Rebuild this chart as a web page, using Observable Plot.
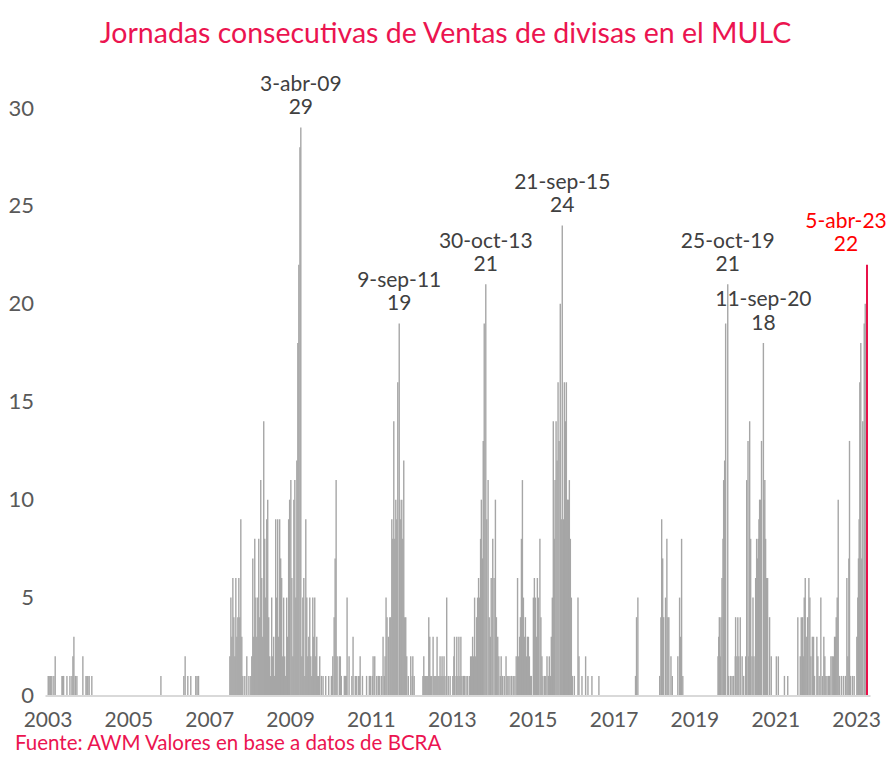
<!DOCTYPE html>
<html>
<head>
<meta charset="utf-8">
<script src="https://cdn.jsdelivr.net/npm/d3@7"></script>
<script src="https://cdn.jsdelivr.net/npm/@observablehq/plot@0.6"></script>
<style>
  html, body { margin: 0; padding: 0; background: #ffffff; }
  body { width: 891px; height: 768px; overflow: hidden; font-family: Lato, "Open Sans", sans-serif; }
  #titulo { height: 43px; padding-top: 17px; text-align: center; color: #EB1450; font-size: 28.5px; line-height: 30px; }
  #fuente { padding-left: 15px; color: #EB1450; font-size: 20.5px; line-height: 20px; margin-top: 0px; }
  #grafico svg { display: block; overflow: visible; }
</style>
</head>
<body>
<div id="titulo">Jornadas consecutivas de Ventas de divisas en el MULC</div>
<div id="grafico"></div>
<div id="fuente">Fuente: AWM Valores en base a datos de BCRA</div>
<script>
// Jornadas consecutivas con ventas netas de divisas (fecha, jornadas)
const rachas = [
  ["2003-01-03",1],["2003-01-11",1],["2003-01-20",1],["2003-01-27",1],["2003-02-05",1],["2003-02-23",1],["2003-03-07",2],
  ["2003-05-07",1],["2003-05-14",1],["2003-05-22",1],["2003-06-21",1],["2003-07-18",1],["2003-08-05",1],["2003-08-14",2],
  ["2003-08-23",3],["2003-09-05",1],["2003-09-19",1],["2003-11-12",2],["2003-12-10",1],["2003-12-19",1],["2003-12-27",1],
  ["2004-01-08",1],["2004-02-01",1],["2005-10-17",1],["2006-05-12",1],["2006-05-24",2],["2006-06-17",1],["2006-07-14",1],
  ["2006-08-28",1],["2006-09-09",1],["2006-09-22",1],
  ["2007-07-02",2],["2007-07-11",5],["2007-07-20",3],["2007-07-29",6],["2007-08-07",4],["2007-08-16",2],["2007-08-25",6],
  ["2007-09-03",3],["2007-09-12",4],["2007-09-21",6],["2007-09-30",4],["2007-10-09",9],["2007-10-18",3],["2007-10-27",1],
  ["2007-11-14",1],["2007-12-02",2],["2007-12-21",1],
  ["2008-01-07",1],["2008-01-16",2],["2008-01-25",7],["2008-02-03",3],["2008-02-12",8],["2008-02-21",5],["2008-03-01",3],
  ["2008-03-10",5],["2008-03-19",8],["2008-03-28",4],["2008-04-06",11],["2008-04-15",6],["2008-04-24",3],["2008-05-03",14],
  ["2008-05-12",8],["2008-05-21",5],["2008-05-30",9],["2008-06-08",10],["2008-06-17",4],["2008-06-26",2],["2008-07-05",1],
  ["2008-07-14",5],["2008-07-23",2],["2008-08-01",3],["2008-08-10",1],["2008-08-19",9],["2008-08-28",5],["2008-09-06",9],
  ["2008-09-15",3],["2008-09-24",9],["2008-10-03",7],["2008-10-12",6],["2008-10-21",2],["2008-10-30",5],["2008-11-08",2],
  ["2008-11-17",1],["2008-11-26",5],["2008-12-05",3],["2008-12-14",9],["2008-12-23",10],
  ["2009-01-03",11],["2009-01-12",6],["2009-01-21",2],["2009-01-30",10],["2009-02-08",11],["2009-02-17",5],["2009-02-26",12],
  ["2009-03-07",18],["2009-03-16",22],["2009-03-26",28],["2009-04-03",29],["2009-04-12",2],["2009-04-21",5],["2009-04-30",6],
  ["2009-05-09",1],["2009-05-18",9],["2009-05-27",5],["2009-06-05",2],["2009-06-14",3],["2009-06-23",5],["2009-07-02",2],
  ["2009-07-11",1],["2009-07-20",5],["2009-07-29",3],["2009-08-07",5],["2009-08-16",2],["2009-08-25",3],["2009-09-03",1],
  ["2009-09-12",1],["2009-09-21",2],["2009-10-06",1],["2009-10-21",1],["2009-11-14",1],["2009-12-11",1],
  ["2010-01-04",1],["2010-01-13",1],["2010-01-17",2],["2010-01-29",4],["2010-02-07",7],["2010-02-16",11],["2010-02-25",2],
  ["2010-03-17",2],["2010-03-26",2],["2010-04-04",1],["2010-05-01",1],["2010-05-10",1],["2010-05-19",1],["2010-05-26",5],
  ["2010-06-13",2],["2010-07-08",1],["2010-07-19",3],["2010-08-08",1],["2010-08-17",1],["2010-09-04",1],["2010-09-13",1],
  ["2010-09-21",2],["2010-10-12",1],["2010-11-18",1],["2010-12-13",1],["2010-12-24",1],
  ["2011-01-09",1],["2011-01-16",2],["2011-01-31",2],["2011-02-18",1],["2011-03-04",1],["2011-03-17",1],["2011-04-04",1],
  ["2011-04-16",3],["2011-04-27",1],["2011-05-04",2],["2011-05-13",5],["2011-05-22",4],["2011-06-04",3],["2011-06-16",4],
  ["2011-06-25",4],["2011-07-04",9],["2011-07-13",8],["2011-07-22",14],["2011-07-31",8],["2011-08-09",10],["2011-08-18",9],
  ["2011-08-27",16],["2011-09-09",19],["2011-09-14",10],["2011-09-23",9],["2011-10-02",10],["2011-10-11",8],["2011-10-20",12],
  ["2011-10-29",4],["2011-11-07",4],["2011-11-16",2],["2011-11-30",1],["2011-12-22",2],
  ["2012-01-04",1],["2012-01-10",2],["2012-01-22",1],["2012-04-10",1],["2012-04-18",2],["2012-04-27",1],["2012-05-06",1],
  ["2012-05-15",1],["2012-05-24",1],["2012-06-02",4],["2012-06-11",3],["2012-06-20",1],["2012-06-29",1],["2012-07-11",3],
  ["2012-07-20",1],["2012-07-29",1],["2012-08-07",1],["2012-08-16",3],["2012-08-25",1],["2012-09-03",1],["2012-09-12",2],
  ["2012-09-21",1],["2012-09-30",2],["2012-10-09",1],["2012-10-18",2],["2012-10-27",1],["2012-11-11",5],["2012-11-25",1],
  ["2012-12-12",1],
  ["2013-01-05",1],["2013-01-15",2],["2013-01-20",3],["2013-02-03",1],["2013-02-10",3],["2013-02-20",1],["2013-03-01",3],
  ["2013-03-10",1],["2013-03-19",3],["2013-03-28",1],["2013-04-10",1],["2013-04-20",1],["2013-05-05",1],["2013-05-20",1],
  ["2013-06-07",1],["2013-06-15",2],["2013-06-24",2],["2013-07-03",3],["2013-07-12",2],["2013-07-21",5],["2013-07-30",2],
  ["2013-08-08",4],["2013-08-17",5],["2013-08-26",6],["2013-09-04",5],["2013-09-13",8],["2013-09-20",10],["2013-09-29",7],
  ["2013-10-07",13],["2013-10-16",19],["2013-10-30",21],["2013-11-08",9],["2013-11-20",11],["2013-11-30",4],["2013-12-10",3],
  ["2013-12-18",6],
  ["2014-01-01",8],["2014-01-13",6],["2014-01-25",10],["2014-02-03",4],["2014-02-15",3],["2014-02-25",2],["2014-03-10",1],
  ["2014-03-18",2],["2014-03-30",1],["2014-04-15",1],["2014-05-01",2],["2014-05-10",1],["2014-05-20",1],["2014-06-05",1],
  ["2014-06-20",1],["2014-07-05",1],["2014-07-20",1],["2014-08-01",2],["2014-08-13",6],["2014-08-22",2],["2014-09-01",3],
  ["2014-09-08",4],["2014-09-17",8],["2014-09-26",11],["2014-10-05",5],["2014-10-14",3],["2014-10-23",4],["2014-11-01",2],
  ["2014-11-10",3],["2014-11-19",3],["2014-11-28",2],["2014-12-07",1],["2014-12-16",1],
  ["2015-01-03",5],["2015-01-12",6],["2015-01-21",5],["2015-01-30",3],["2015-02-08",6],["2015-02-17",5],["2015-03-03",8],
  ["2015-03-12",4],["2015-03-21",2],["2015-03-30",1],["2015-04-15",1],["2015-04-25",1],["2015-05-06",2],["2015-05-18",1],
  ["2015-05-27",2],["2015-06-05",1],["2015-06-14",3],["2015-06-23",5],["2015-07-02",14],["2015-07-11",8],["2015-07-18",11],
  ["2015-07-27",14],["2015-08-05",12],["2015-08-14",16],["2015-08-23",13],["2015-09-03",20],["2015-09-12",9],["2015-09-21",24],
  ["2015-10-02",9],["2015-10-10",16],["2015-10-19",14],["2015-10-28",16],["2015-11-06",10],["2015-11-15",10],["2015-11-24",11],
  ["2015-12-03",8],["2015-12-12",5],["2015-12-21",1],
  ["2016-01-08",1],["2016-02-10",5],["2016-02-19",2],["2016-03-17",1],["2016-04-19",2],["2016-05-10",1],["2016-06-15",1],
  ["2016-08-17",1],
  ["2017-07-14",1],["2017-07-23",4],["2017-08-04",5],
  ["2018-02-17",1],["2018-02-28",4],["2018-03-07",9],["2018-03-16",7],["2018-03-25",4],["2018-04-11",5],["2018-04-23",8],
  ["2018-05-02",4],["2018-05-11",4],["2018-05-30",2],["2018-06-11",1],["2018-07-31",2],["2018-08-16",5],["2018-08-25",3],
  ["2018-09-03",8],["2018-09-14",1],
  ["2019-07-29",2],["2019-08-04",3],["2019-08-10",4],["2019-08-19",2],["2019-08-25",4],["2019-09-03",6],["2019-09-12",8],
  ["2019-09-18",11],["2019-09-27",12],["2019-10-06",19],["2019-10-25",21],["2019-11-02",1],["2019-11-20",1],["2019-12-03",1],
  ["2019-12-17",1],
  ["2020-01-01",2],["2020-01-04",4],["2020-01-15",2],["2020-01-24",4],["2020-02-02",2],["2020-02-15",4],["2020-03-03",2],
  ["2020-03-17",1],["2020-04-04",2],["2020-04-13",11],["2020-04-25",13],["2020-05-01",2],["2020-05-10",14],["2020-05-19",8],
  ["2020-05-31",2],["2020-06-09",5],["2020-06-18",2],["2020-07-03",6],["2020-07-12",8],["2020-07-18",7],["2020-07-27",8],
  ["2020-08-02",9],["2020-08-08",10],["2020-08-14",10],["2020-08-25",13],["2020-09-11",18],["2020-09-17",10],["2020-09-24",11],
  ["2020-10-01",8],["2020-10-10",6],["2020-10-19",6],["2020-11-06",4],["2020-11-21",2],
  ["2021-01-06",2],["2021-01-24",2],["2021-03-20",1],["2021-04-19",1],["2021-07-19",4],["2021-08-10",2],["2021-08-19",4],
  ["2021-08-31",4],["2021-09-06",2],["2021-09-15",5],["2021-09-24",6],["2021-10-03",3],["2021-10-15",4],["2021-10-27",6],
  ["2021-11-05",5],["2021-11-14",2],["2021-11-27",3],["2021-12-08",3],["2021-12-17",1],
  ["2022-01-07",3],["2022-01-16",2],["2022-01-28",1],["2022-02-12",5],["2022-02-25",1],["2022-03-11",3],["2022-03-20",2],
  ["2022-03-29",1],["2022-04-09",1],["2022-04-23",1],["2022-05-02",1],["2022-05-14",2],["2022-05-26",2],["2022-06-07",2],
  ["2022-06-16",3],["2022-06-25",3],["2022-07-01",4],["2022-07-10",5],["2022-07-19",10],["2022-07-31",1],["2022-08-18",1],
  ["2022-09-05",1],["2022-09-23",1],["2022-10-05",6],["2022-10-14",2],["2022-10-23",7],["2022-10-29",13],["2022-11-07",1],
  ["2022-11-25",1],["2022-12-10",1],
  ["2023-01-03",3],["2023-01-12",5],["2023-01-18",7],["2023-01-24",9],["2023-01-30",16],["2023-02-08",18],["2023-02-17",7],
  ["2023-02-26",14],["2023-03-11",19],["2023-03-20",20],["2023-04-05",22]
];

// Máximos anotados
const picosFecha = ["2009-04-03","2011-09-09","2013-10-30","2015-09-21","2019-10-25","2020-09-11","2023-04-05"];
const picosTexto = ["3-abr-09","9-sep-11","30-oct-13","21-sep-15","25-oct-19","11-sep-20","5-abr-23"];
const picosValor = [29, 19, 21, 24, 21, 18, 22];

// Etiquetas de ejes
const anios = ["2003","2005","2007","2009","2011","2013","2015","2017","2019","2021","2023"];
const ticksY = [0, 5, 10, 15, 20, 25, 30];

const datos = rachas.map(([f, v]) => ({fecha: new Date(f + "T00:00:00Z"), valor: v}));
const ultimo = datos[datos.length - 1];
const historicos = datos.slice(0, -1);
const picos = picosFecha.map((f, i) => ({
  fecha: new Date(f + "T00:00:00Z"),
  valor: picosValor[i],
  etiqueta: picosTexto[i] + "\n" + picosValor[i]
}));
const picosPasados = picos.slice(0, -1);
const picoActual = picos.slice(-1);

const chart = Plot.plot({
  width: 891,
  height: 672,
  marginLeft: 47.5,
  marginRight: 24.5,
  marginTop: 48,
  marginBottom: 36.5,
  style: {fontFamily: "Lato, 'Open Sans', sans-serif", fontSize: "22px", color: "#595959", background: "white", overflow: "visible"},
  x: {type: "utc", domain: [new Date("2003-01-01T00:00:00Z"), new Date("2023-04-05T00:00:00Z")]},
  y: {domain: [0, 30]},
  marks: [
    Plot.axisY({ticks: ticksY, tickSize: 0, tickPadding: 14, label: null, fontSize: 22}),
    Plot.axisX({ticks: anios.map(a => new Date(a + "-01-01T00:00:00Z")), tickFormat: d => String(d.getUTCFullYear()), tickSize: 0, tickPadding: 16, label: null, fontSize: 21}),
    Plot.ruleX(historicos, {x: "fecha", y1: 0, y2: "valor", stroke: "#a6a6a6", strokeWidth: 1.4}),
    Plot.ruleX([ultimo], {x: "fecha", y1: 0, y2: "valor", stroke: "#E8114A", strokeWidth: 2}),
    Plot.ruleY([0], {stroke: "#d9d9d9", strokeWidth: 2, insetLeft: -2, insetRight: -4}),
    Plot.text(picosPasados, {
      x: "fecha", y: "valor", text: "etiqueta",
      lineAnchor: "bottom", dy: -14, lineHeight: 1.1, fontSize: 21, fill: "#404040"
    }),
    Plot.text(picoActual, {
      x: "fecha", y: "valor", text: "etiqueta",
      lineAnchor: "bottom", dy: -14, dx: -21, lineHeight: 1.1, fontSize: 21, fill: "#ff0000"
    })
  ]
});
document.getElementById("grafico").appendChild(chart);
</script>
</body>
</html>
